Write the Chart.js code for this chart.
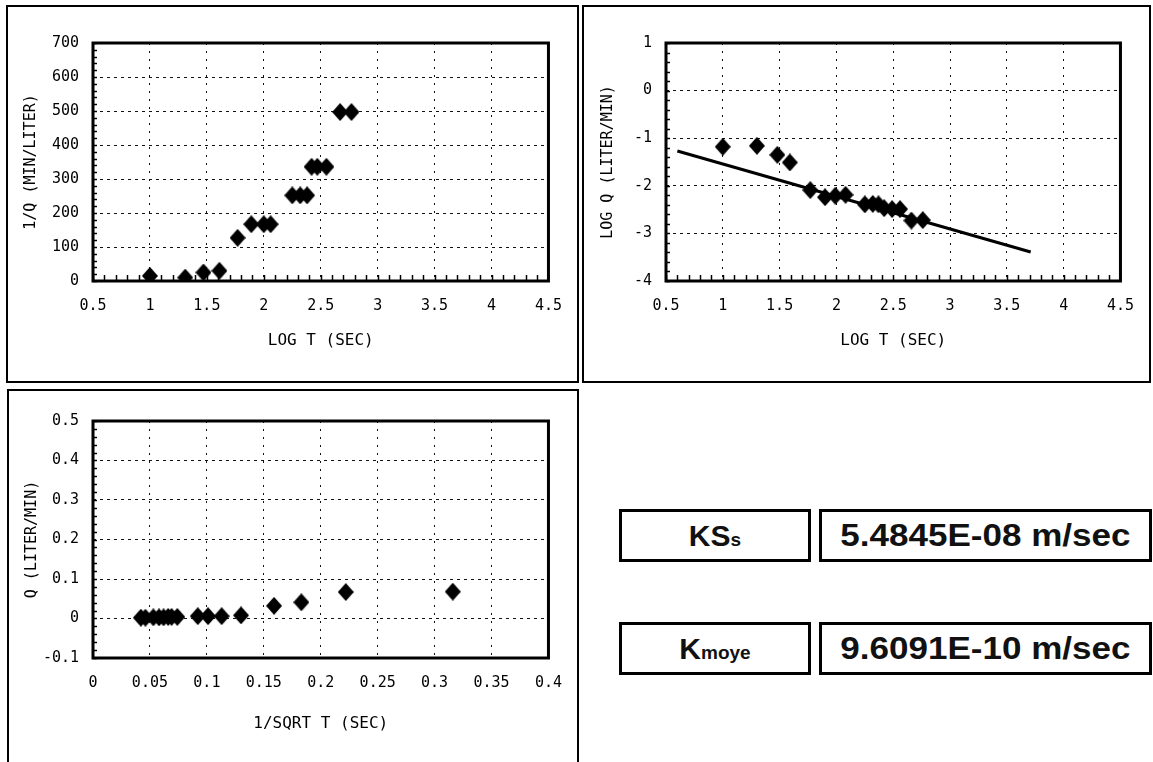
<!DOCTYPE html>
<html>
<head>
<meta charset="utf-8">
<script src="https://cdn.jsdelivr.net/npm/chart.js@4"></script>
<style>
  body { margin: 0; background: #fff; width: 1153px; height: 762px; position: relative; overflow: hidden; }
  .panel { position: absolute; border: 2px solid #000; box-sizing: border-box; }
  canvas.c { position: absolute; }
  .box { position: absolute; border: 3px solid #000; box-sizing: border-box; display: flex; align-items: center; justify-content: center;
         font-family: "Liberation Sans", Arial, sans-serif; font-weight: bold; color: #111; }
  .lbl { font-size: 30px; }
  .val { font-size: 31px; }
  .val span { display: inline-block; transform: scaleX(1.13); }
  .box sub { font-size: 19px; position: relative; top: 4px; }
</style>
</head>
<body>
<div class="panel" style="left:6px;top:5px;width:573px;height:378px"></div>
<div class="panel" style="left:582px;top:5px;width:569px;height:378px"></div>
<div class="panel" style="left:7px;top:389px;width:572px;height:400px"></div>

<canvas class="c" id="c1" width="570" height="374" style="left:8px;top:7px"></canvas>
<canvas class="c" id="c2" width="566" height="374" style="left:584px;top:7px"></canvas>
<canvas class="c" id="c3" width="569" height="371" style="left:9px;top:391px"></canvas>

<div class="box lbl" style="left:619px;top:509px;width:192px;height:53px">KS<sub>s</sub></div>
<div class="box val" style="left:819px;top:509px;width:333px;height:53px"><span>5.4845E-08 m/sec</span></div>
<div class="box lbl" style="left:619px;top:622px;width:192px;height:53px">K<sub>moye</sub></div>
<div class="box val" style="left:819px;top:622px;width:333px;height:53px"><span>9.6091E-10 m/sec</span></div>

<script>
// chart 1: 1/Q vs log T
const logT1 = [1.00, 1.31, 1.47, 1.61, 1.77, 1.89, 2.00, 2.06, 2.25, 2.32, 2.38, 2.42, 2.47, 2.55, 2.67, 2.77];
const invQ = [15, 10, 25, 30, 127, 167, 167, 167, 252, 252, 252, 336, 336, 336, 497, 497];

// chart 2: log Q vs log T, with trend line
const logT2 = [1.00, 1.30, 1.48, 1.59, 1.77, 1.90, 1.99, 2.08, 2.25, 2.32, 2.37, 2.42, 2.49, 2.56, 2.66, 2.76];
const logQ = [-1.18, -1.16, -1.35, -1.51, -2.09, -2.24, -2.21, -2.19, -2.39, -2.38, -2.39, -2.47, -2.49, -2.49, -2.73, -2.72];
const trendX = [0.6, 3.71];
const trendY = [-1.27, -3.39];

// chart 3: Q vs 1/sqrt T
const invSqrtT = [0.042, 0.046, 0.053, 0.058, 0.062, 0.066, 0.069, 0.074, 0.092, 0.101, 0.113, 0.130, 0.159, 0.183, 0.222, 0.316];
const qVals = [0.002, 0.002, 0.003, 0.003, 0.003, 0.004, 0.004, 0.004, 0.006, 0.006, 0.006, 0.008, 0.032, 0.041, 0.067, 0.068];

// tick labels
const logTTicks = [0.5, 1, 1.5, 2, 2.5, 3, 3.5, 4, 4.5];
const logTLabels = ["0.5", "1", "1.5", "2", "2.5", "3", "3.5", "4", "4.5"];
const invQTicks = [0, 100, 200, 300, 400, 500, 600, 700];
const invQLabels = ["0", "100", "200", "300", "400", "500", "600", "700"];
const logQTicks = [-4, -3, -2, -1, 0, 1];
const logQLabels = ["-4", "-3", "-2", "-1", "0", "1"];
const sqrtTicks = [0, 0.05, 0.1, 0.15, 0.2, 0.25, 0.3, 0.35, 0.4];
const sqrtLabels = ["0", "0.05", "0.1", "0.15", "0.2", "0.25", "0.3", "0.35", "0.4"];
const qTicks = [-0.1, 0, 0.1, 0.2, 0.3, 0.4, 0.5];
const qLabels = ["-0.1", "0", "0.1", "0.2", "0.3", "0.4", "0.5"];

const FONT = "'DejaVu Sans Mono', monospace";

function diamond(w, h) {
    const c = document.createElement("canvas");
    c.width = w; c.height = h;
    const g = c.getContext("2d");
    g.fillStyle = "#000";
    g.beginPath();
    g.moveTo(w / 2, 0); g.lineTo(w, h / 2); g.lineTo(w / 2, h); g.lineTo(0, h / 2);
    g.closePath(); g.fill();
    return c;
}
const marker = diamond(16, 18);

// plot frame + small inward tick marks
const framePlugin = {
    id: "frame",
    beforeDatasetsDraw(chart, args, opts) {
        const { ctx, chartArea: a, scales: { x, y } } = chart;
        ctx.save();
        ctx.strokeStyle = "#000";
        ctx.lineWidth = 1.5;
        if (opts.xMinor) {
            for (let v = x.min; v <= x.max + 1e-9; v += opts.xMinor) {
                const px = Math.round(x.getPixelForValue(v)) + 0.5;
                ctx.beginPath(); ctx.moveTo(px, a.bottom); ctx.lineTo(px, a.bottom - 6); ctx.stroke();
            }
        }
        if (opts.yMinor) {
            for (let v = y.min; v <= y.max + 1e-9; v += opts.yMinor) {
                const py = Math.round(y.getPixelForValue(v)) + 0.5;
                ctx.beginPath(); ctx.moveTo(a.left, py); ctx.lineTo(a.left + 4, py); ctx.stroke();
            }
        }
        ctx.lineWidth = 3;
        ctx.strokeRect(a.left, a.top, a.right - a.left, a.bottom - a.top);
        ctx.restore();
    }
};

function axis(min, max, ticks, labels, title, isX, geom) {
    const c = geom.canvas, p = geom.plot;
    return {
        type: "linear",
        min: min,
        max: max,
        afterFit: (s) => {
            if (isX) s.height = c.y + c.h - p.b;
            else s.width = p.l - c.x;
        },
        afterBuildTicks: (s) => { s.ticks = ticks.map(v => ({ value: v })); },
        ticks: {
            autoSkip: false,
            maxRotation: 0,
            padding: isX ? 16 : 14,
            color: "#000",
            font: { family: FONT, size: 15 },
            callback: (v, i) => labels[i]
        },
        grid: {
            drawTicks: false,
            color: "#111",
            lineWidth: 1,
            borderDash: isX ? [2, 6] : [3, 4]
        },
        border: { display: false, dash: isX ? [2, 6] : [3, 4] },
        title: {
            display: true,
            text: title,
            color: "#000",
            font: { family: FONT, size: isX ? 16 : 15 },
            padding: isX ? { top: 0, bottom: geom.titlePad } : { top: geom.yTitlePad, bottom: 0 }
        }
    };
}

function makeChart(id, geom, datasets, xAx, yAx, minor) {
    const c = geom.canvas, p = geom.plot;
    return new Chart(document.getElementById(id), {
        type: "scatter",
        data: { datasets: datasets },
        options: {
            responsive: false,
            animation: false,
            layout: { padding: { left: 0, top: p.t - c.y, right: c.x + c.w - p.r, bottom: 0 } },
            plugins: {
                legend: { display: false },
                tooltip: { enabled: false },
                frame: minor
            },
            scales: { x: xAx, y: yAx }
        },
        plugins: [framePlugin]
    });
}

function points(xs, ys) {
    return {
        data: xs.map((x, i) => ({ x: x, y: ys[i] })),
        pointStyle: marker,
        pointRadius: 9,
        order: 0
    };
}

const g1 = { canvas: { x: 8, y: 7, w: 570, h: 374 }, plot: { l: 93, t: 43, r: 558, b: 281 }, titlePad: 31, yTitlePad: 14 };
const g2 = { canvas: { x: 584, y: 7, w: 566, h: 374 }, plot: { l: 666, t: 43, r: 1136, b: 281 }, titlePad: 31, yTitlePad: 15 };
const g3 = { canvas: { x: 9, y: 391, w: 569, h: 371 }, plot: { l: 93, t: 421, r: 550, b: 658 }, titlePad: 29, yTitlePad: 14 };

makeChart("c1", g1,
    [points(logT1, invQ)],
    axis(0.5, 4.5, logTTicks, logTLabels, "LOG T (SEC)", true, g1),
    axis(0, 700, invQTicks, invQLabels, "1/Q (MIN/LITER)", false, g1),
    { xMinor: 0.1, yMinor: 20 });

makeChart("c2", g2,
    [
        points(logT2, logQ),
        {
            data: trendX.map((x, i) => ({ x: x, y: trendY[i] })),
            showLine: true,
            borderColor: "#000",
            borderWidth: 3,
            pointRadius: 0,
            order: 1
        }
    ],
    axis(0.5, 4.5, logTTicks, logTLabels, "LOG T (SEC)", true, g2),
    axis(-4, 1, logQTicks, logQLabels, "LOG Q (LITER/MIN)", false, g2),
    { xMinor: 0.1, yMinor: 0.2 });

makeChart("c3", g3,
    [points(invSqrtT, qVals)],
    axis(0, 0.4, sqrtTicks, sqrtLabels, "1/SQRT T (SEC)", true, g3),
    axis(-0.1, 0.5, qTicks, qLabels, "Q (LITER/MIN)", false, g3),
    { yMinor: 0.02 });
</script>
</body>
</html>
